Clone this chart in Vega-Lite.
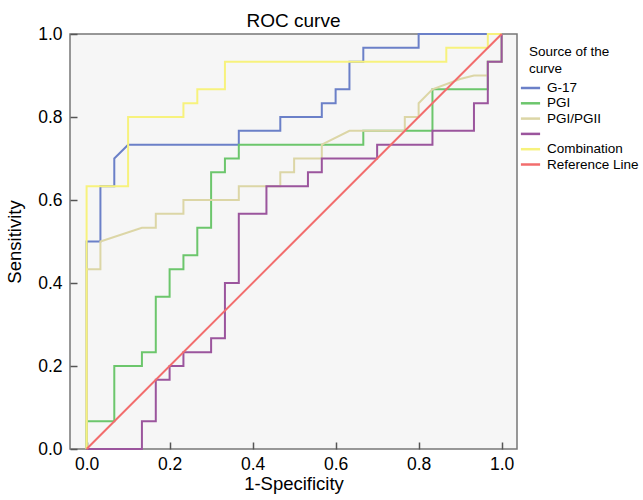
{
  "$schema": "https://vega.github.io/schema/vega-lite/v6.json",
  "width": 447,
  "height": 415,
  "autosize": {"type": "none"},
  "padding": {"left": 70, "top": 34, "right": 126, "bottom": 51},
  "background": "white",
  "title": {"text": "ROC curve", "frame": "group", "anchor": "middle", "baseline": "alphabetic", "offset": 5, "dy": 26, "fontSize": 19, "fontWeight": "normal", "font": "Liberation Sans", "color": "#000"},
  "config": {
    "view": {"fill": "#f6f6f6", "stroke": "#777777", "strokeWidth": 1.5},
    "font": "Liberation Sans",
    "axis": {"grid": false, "domain": false, "tickSize": -7, "tickWidth": 1.5, "tickColor": "#555555", "labelFont": "Liberation Sans", "labelFontSize": 17.5, "labelColor": "#000", "titleFont": "Liberation Sans", "titleFontSize": 18.5, "titleFontWeight": "normal", "titleColor": "#000", "labelFlush": false}
  },
  "data": {"values": [
    {"s": "G-17", "i": 0, "x": 0, "y": 0},
    {"s": "G-17", "i": 1, "x": 0, "y": 0.5},
    {"s": "G-17", "i": 2, "x": 0.0333, "y": 0.5},
    {"s": "G-17", "i": 3, "x": 0.0333, "y": 0.6333},
    {"s": "G-17", "i": 4, "x": 0.0667, "y": 0.6333},
    {"s": "G-17", "i": 5, "x": 0.0667, "y": 0.7},
    {"s": "G-17", "i": 6, "x": 0.1, "y": 0.7333},
    {"s": "G-17", "i": 7, "x": 0.3667, "y": 0.7333},
    {"s": "G-17", "i": 8, "x": 0.3667, "y": 0.7667},
    {"s": "G-17", "i": 9, "x": 0.4667, "y": 0.7667},
    {"s": "G-17", "i": 10, "x": 0.4667, "y": 0.8},
    {"s": "G-17", "i": 11, "x": 0.5667, "y": 0.8},
    {"s": "G-17", "i": 12, "x": 0.5667, "y": 0.8333},
    {"s": "G-17", "i": 13, "x": 0.6, "y": 0.8333},
    {"s": "G-17", "i": 14, "x": 0.6, "y": 0.8667},
    {"s": "G-17", "i": 15, "x": 0.6333, "y": 0.8667},
    {"s": "G-17", "i": 16, "x": 0.6333, "y": 0.9333},
    {"s": "G-17", "i": 17, "x": 0.6667, "y": 0.9333},
    {"s": "G-17", "i": 18, "x": 0.6667, "y": 0.9667},
    {"s": "G-17", "i": 19, "x": 0.8, "y": 0.9667},
    {"s": "G-17", "i": 20, "x": 0.8, "y": 1},
    {"s": "G-17", "i": 21, "x": 1, "y": 1},

    {"s": "PGI", "i": 0, "x": 0, "y": 0},
    {"s": "PGI", "i": 1, "x": 0, "y": 0.0667},
    {"s": "PGI", "i": 2, "x": 0.0667, "y": 0.0667},
    {"s": "PGI", "i": 3, "x": 0.0667, "y": 0.2},
    {"s": "PGI", "i": 4, "x": 0.1333, "y": 0.2},
    {"s": "PGI", "i": 5, "x": 0.1333, "y": 0.2333},
    {"s": "PGI", "i": 6, "x": 0.1667, "y": 0.2333},
    {"s": "PGI", "i": 7, "x": 0.1667, "y": 0.3667},
    {"s": "PGI", "i": 8, "x": 0.2, "y": 0.3667},
    {"s": "PGI", "i": 9, "x": 0.2, "y": 0.4333},
    {"s": "PGI", "i": 10, "x": 0.2333, "y": 0.4333},
    {"s": "PGI", "i": 11, "x": 0.2333, "y": 0.4667},
    {"s": "PGI", "i": 12, "x": 0.2667, "y": 0.4667},
    {"s": "PGI", "i": 13, "x": 0.2667, "y": 0.5333},
    {"s": "PGI", "i": 14, "x": 0.3, "y": 0.5333},
    {"s": "PGI", "i": 15, "x": 0.3, "y": 0.6667},
    {"s": "PGI", "i": 16, "x": 0.3333, "y": 0.6667},
    {"s": "PGI", "i": 17, "x": 0.3333, "y": 0.7},
    {"s": "PGI", "i": 18, "x": 0.3667, "y": 0.7},
    {"s": "PGI", "i": 19, "x": 0.3667, "y": 0.7333},
    {"s": "PGI", "i": 20, "x": 0.6667, "y": 0.7333},
    {"s": "PGI", "i": 21, "x": 0.6667, "y": 0.7667},
    {"s": "PGI", "i": 22, "x": 0.8333, "y": 0.7667},
    {"s": "PGI", "i": 23, "x": 0.8333, "y": 0.8667},
    {"s": "PGI", "i": 24, "x": 0.9667, "y": 0.8667},
    {"s": "PGI", "i": 25, "x": 0.9667, "y": 0.9333},
    {"s": "PGI", "i": 26, "x": 1, "y": 0.9333},
    {"s": "PGI", "i": 27, "x": 1, "y": 1},

    {"s": "PGI/PGII", "i": 0, "x": 0, "y": 0},
    {"s": "PGI/PGII", "i": 1, "x": 0, "y": 0.4333},
    {"s": "PGI/PGII", "i": 2, "x": 0.0333, "y": 0.4333},
    {"s": "PGI/PGII", "i": 3, "x": 0.0333, "y": 0.5},
    {"s": "PGI/PGII", "i": 4, "x": 0.1333, "y": 0.5333},
    {"s": "PGI/PGII", "i": 5, "x": 0.1667, "y": 0.5333},
    {"s": "PGI/PGII", "i": 6, "x": 0.1667, "y": 0.5667},
    {"s": "PGI/PGII", "i": 7, "x": 0.2333, "y": 0.5667},
    {"s": "PGI/PGII", "i": 8, "x": 0.2333, "y": 0.6},
    {"s": "PGI/PGII", "i": 9, "x": 0.3667, "y": 0.6},
    {"s": "PGI/PGII", "i": 10, "x": 0.3667, "y": 0.6333},
    {"s": "PGI/PGII", "i": 11, "x": 0.4667, "y": 0.6333},
    {"s": "PGI/PGII", "i": 12, "x": 0.4667, "y": 0.6667},
    {"s": "PGI/PGII", "i": 13, "x": 0.5, "y": 0.6667},
    {"s": "PGI/PGII", "i": 14, "x": 0.5, "y": 0.7},
    {"s": "PGI/PGII", "i": 15, "x": 0.5667, "y": 0.7},
    {"s": "PGI/PGII", "i": 16, "x": 0.5667, "y": 0.7333},
    {"s": "PGI/PGII", "i": 17, "x": 0.6333, "y": 0.7667},
    {"s": "PGI/PGII", "i": 18, "x": 0.7667, "y": 0.7667},
    {"s": "PGI/PGII", "i": 19, "x": 0.7667, "y": 0.8},
    {"s": "PGI/PGII", "i": 20, "x": 0.8, "y": 0.8},
    {"s": "PGI/PGII", "i": 21, "x": 0.8, "y": 0.8333},
    {"s": "PGI/PGII", "i": 22, "x": 0.8333, "y": 0.8667},
    {"s": "PGI/PGII", "i": 23, "x": 0.9, "y": 0.8917},
    {"s": "PGI/PGII", "i": 24, "x": 0.9333, "y": 0.9},
    {"s": "PGI/PGII", "i": 25, "x": 0.9667, "y": 0.9},
    {"s": "PGI/PGII", "i": 26, "x": 0.9667, "y": 0.9333},
    {"s": "PGI/PGII", "i": 27, "x": 1, "y": 0.9333},
    {"s": "PGI/PGII", "i": 28, "x": 1, "y": 1},

    {"s": "PGII", "i": 0, "x": 0, "y": 0},
    {"s": "PGII", "i": 1, "x": 0.1333, "y": 0},
    {"s": "PGII", "i": 2, "x": 0.1333, "y": 0.0667},
    {"s": "PGII", "i": 3, "x": 0.1667, "y": 0.0667},
    {"s": "PGII", "i": 4, "x": 0.1667, "y": 0.1667},
    {"s": "PGII", "i": 5, "x": 0.2, "y": 0.1667},
    {"s": "PGII", "i": 6, "x": 0.2, "y": 0.2},
    {"s": "PGII", "i": 7, "x": 0.2333, "y": 0.2},
    {"s": "PGII", "i": 8, "x": 0.2333, "y": 0.2333},
    {"s": "PGII", "i": 9, "x": 0.3, "y": 0.2333},
    {"s": "PGII", "i": 10, "x": 0.3, "y": 0.2667},
    {"s": "PGII", "i": 11, "x": 0.3333, "y": 0.2667},
    {"s": "PGII", "i": 12, "x": 0.3333, "y": 0.4},
    {"s": "PGII", "i": 13, "x": 0.3667, "y": 0.4},
    {"s": "PGII", "i": 14, "x": 0.3667, "y": 0.5667},
    {"s": "PGII", "i": 15, "x": 0.4333, "y": 0.5667},
    {"s": "PGII", "i": 16, "x": 0.4333, "y": 0.6333},
    {"s": "PGII", "i": 17, "x": 0.5333, "y": 0.6333},
    {"s": "PGII", "i": 18, "x": 0.5333, "y": 0.6667},
    {"s": "PGII", "i": 19, "x": 0.5667, "y": 0.6667},
    {"s": "PGII", "i": 20, "x": 0.5667, "y": 0.7},
    {"s": "PGII", "i": 21, "x": 0.7, "y": 0.7},
    {"s": "PGII", "i": 22, "x": 0.7, "y": 0.7333},
    {"s": "PGII", "i": 23, "x": 0.8333, "y": 0.7333},
    {"s": "PGII", "i": 24, "x": 0.8333, "y": 0.7667},
    {"s": "PGII", "i": 25, "x": 0.9333, "y": 0.7667},
    {"s": "PGII", "i": 26, "x": 0.9333, "y": 0.8333},
    {"s": "PGII", "i": 27, "x": 0.9667, "y": 0.8333},
    {"s": "PGII", "i": 28, "x": 0.9667, "y": 0.9333},
    {"s": "PGII", "i": 29, "x": 1, "y": 0.9333},
    {"s": "PGII", "i": 30, "x": 1, "y": 1},

    {"s": "Combination", "i": 0, "x": 0, "y": 0},
    {"s": "Combination", "i": 1, "x": 0, "y": 0.6333},
    {"s": "Combination", "i": 2, "x": 0.1, "y": 0.6333},
    {"s": "Combination", "i": 3, "x": 0.1, "y": 0.8},
    {"s": "Combination", "i": 4, "x": 0.2333, "y": 0.8},
    {"s": "Combination", "i": 5, "x": 0.2333, "y": 0.8333},
    {"s": "Combination", "i": 6, "x": 0.2667, "y": 0.8333},
    {"s": "Combination", "i": 7, "x": 0.2667, "y": 0.8667},
    {"s": "Combination", "i": 8, "x": 0.3333, "y": 0.8667},
    {"s": "Combination", "i": 9, "x": 0.3333, "y": 0.9333},
    {"s": "Combination", "i": 10, "x": 0.8667, "y": 0.9333},
    {"s": "Combination", "i": 11, "x": 0.8667, "y": 0.9667},
    {"s": "Combination", "i": 12, "x": 0.9667, "y": 0.9667},
    {"s": "Combination", "i": 13, "x": 0.9667, "y": 1},
    {"s": "Combination", "i": 14, "x": 1, "y": 1},

    {"s": "Reference Line", "i": 0, "x": 0, "y": 0},
    {"s": "Reference Line", "i": 1, "x": 1, "y": 1}
  ]},
  "mark": {"type": "line", "strokeWidth": 2, "interpolate": "linear"},
  "encoding": {
    "x": {"field": "x", "type": "quantitative", "scale": {"domain": [-0.04, 1.037], "nice": false, "zero": false},
      "axis": {"values": [0, 0.2, 0.4, 0.6, 0.8, 1], "format": ".1f", "title": "1-Specificity", "labelPadding": 13, "titlePadding": 2}},
    "y": {"field": "y", "type": "quantitative", "scale": {"domain": [0, 1], "nice": false, "zero": false},
      "axis": {"values": [0, 0.2, 0.4, 0.6, 0.8, 1], "format": ".1f", "title": "Sensitivity", "labelPadding": 15, "titlePadding": 13}},
    "color": {"field": "s", "type": "nominal",
      "scale": {"domain": ["G-17", "PGI", "PGI/PGII", "PGII", "Combination", "Reference Line"],
                "range": ["#6b80c8", "#6cc66c", "#dcd6a6", "#9b559d", "#f7f27d", "#f26d6d"]},
      "legend": {"title": ["Source of the", "curve"], "orient": "none", "legendX": 459, "legendY": 11, "padding": 0,
        "titleFont": "Liberation Sans", "titleFontSize": 13.5, "titleFontWeight": "normal", "titleColor": "#000", "titleLineHeight": 17, "titlePadding": 5,
        "labelFont": "Liberation Sans", "labelFontSize": 13.5, "labelColor": "#000", "labelOffset": 9,
        "symbolType": "M-1.6,0H1.6", "symbolSize": 144, "symbolStrokeWidth": 2.5, "symbolOffset": -6, "rowPadding": 1.3,
        "labelExpr": "datum.label == 'PGII' ? '' : datum.label"}},
    "order": {"field": "i", "type": "quantitative"}
  }
}
